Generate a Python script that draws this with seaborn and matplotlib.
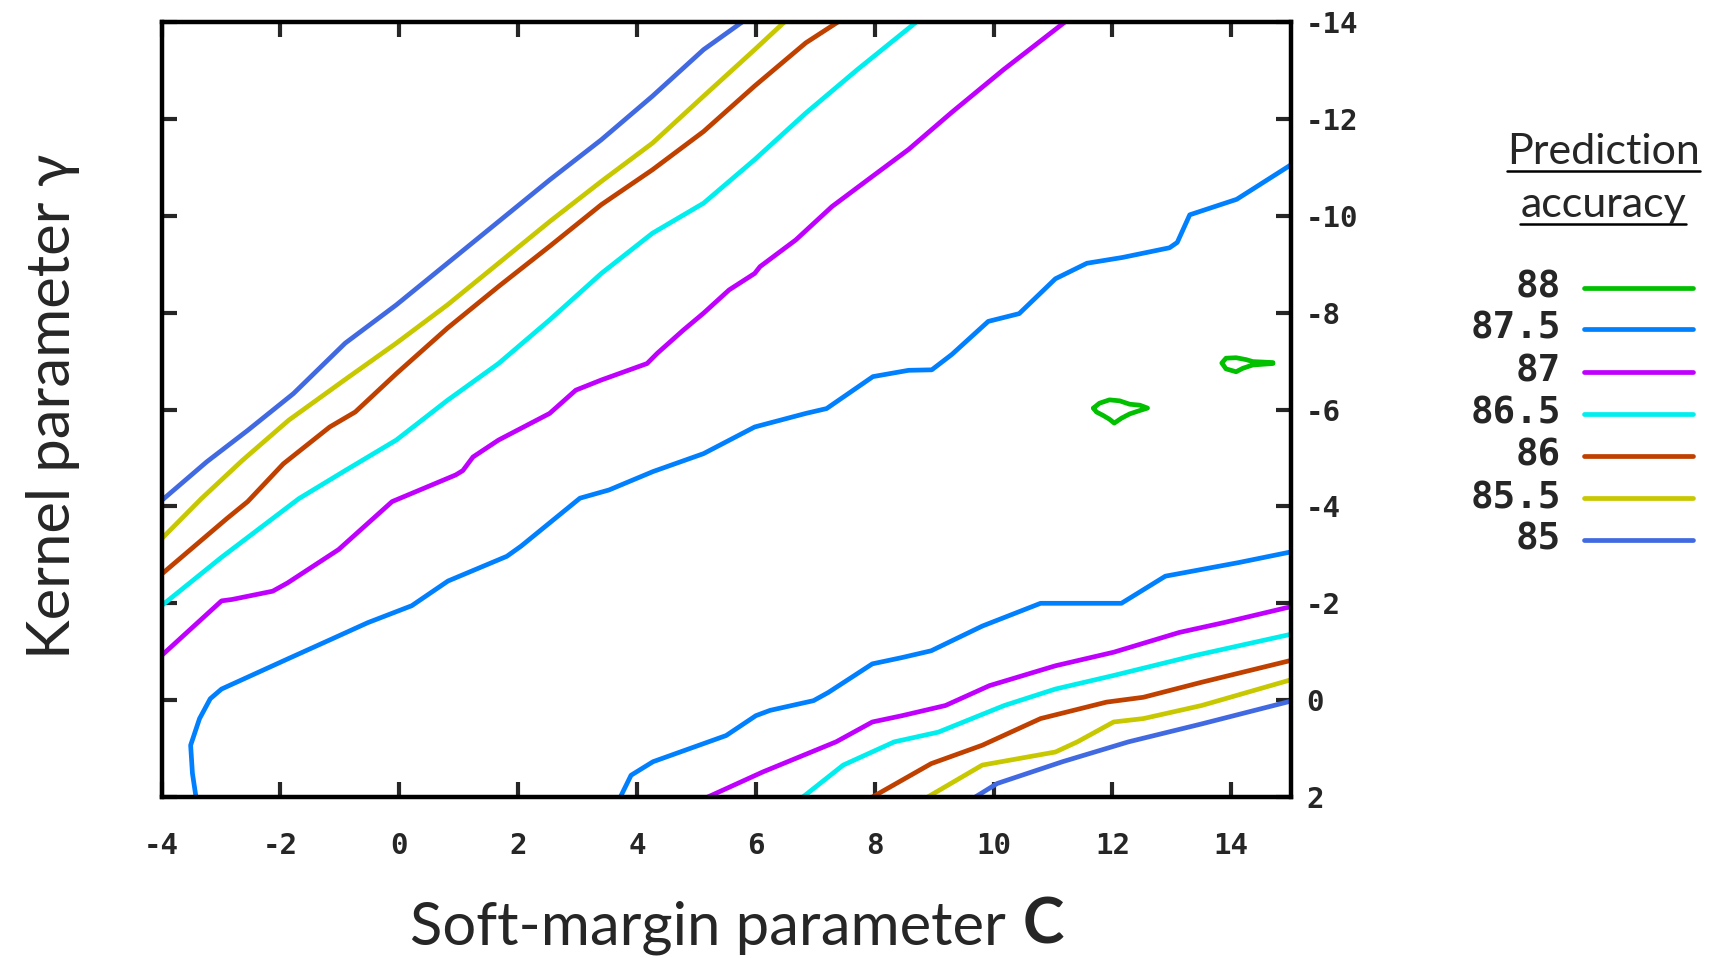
import matplotlib.pyplot as plt
from matplotlib.lines import Line2D
import seaborn as sns
import pandas as pd

# contour levels (prediction accuracy) and gnuplot-like colours
levels = ["88", "87.5", "87", "86.5", "86", "85.5", "85"]
level_colors = ["#00C000", "#0080FF", "#C000FF", "#00EEEE", "#C04000", "#C8C800", "#4169E1"]

x_ticks = [-4, -2, 0, 2, 4, 6, 8, 10, 12, 14]
y_ticks = [-14, -12, -10, -8, -6, -4, -2, 0, 2]

# contour lines: x = log2 C, y = log2 gamma
c85_top_x = [-4.0, -3.24, -2.55, -1.78, -0.91, -0.05, 0.81, 1.67, 2.53, 3.40, 4.26, 5.12, 5.77]
c85_top_y = [-4.12, -4.92, -5.57, -6.33, -7.37, -8.16, -9.02, -9.88, -10.74, -11.57, -12.47, -13.43, -14.0]
c85_bot_x = [9.69, 10.06, 11.16, 12.27, 13.50, 15.0]
c85_bot_y = [2.0, 1.72, 1.27, 0.86, 0.49, 0.02]

c855_top_x = [-4.0, -3.33, -2.64, -1.86, -0.91, -0.05, 0.81, 1.67, 2.53, 3.40, 4.26, 5.12, 5.98, 6.48]
c855_top_y = [-3.33, -4.16, -4.95, -5.78, -6.62, -7.37, -8.16, -9.02, -9.88, -10.71, -11.50, -12.47, -13.43, -14.0]
c855_bot_x = [8.89, 9.81, 11.04, 11.41, 12.02, 12.52, 13.50, 15.0]
c855_bot_y = [2.0, 1.34, 1.07, 0.86, 0.45, 0.38, 0.11, -0.42]

c86_top_x = [-4.0, -2.9, -2.55, -1.95, -1.17, -0.74, -0.05, 0.81, 1.67, 2.53, 3.40, 4.26, 5.12, 5.98, 6.84, 7.38]
c86_top_y = [-2.6, -3.75, -4.1, -4.88, -5.64, -5.95, -6.74, -7.68, -8.54, -9.37, -10.23, -10.95, -11.74, -12.68, -13.57, -14.0]
c86_bot_x = [7.96, 8.95, 9.81, 10.79, 11.90, 12.52, 13.50, 15.0]
c86_bot_y = [2.0, 1.31, 0.93, 0.38, 0.04, -0.06, -0.37, -0.82]

c865_top_x = [-4.0, -2.99, -1.69, -0.91, -0.05, 0.81, 1.67, 2.53, 3.40, 4.26, 5.12, 5.98, 6.84, 7.71, 8.70]
c865_top_y = [-1.95, -2.95, -4.16, -4.74, -5.37, -6.19, -6.95, -7.85, -8.81, -9.64, -10.26, -11.16, -12.12, -13.02, -14.0]
c865_bot_x = [6.79, 7.47, 8.33, 9.07, 10.18, 11.04, 12.02, 13.38, 15.0]
c865_bot_y = [2.0, 1.34, 0.86, 0.66, 0.11, -0.23, -0.51, -0.92, -1.36]

c87_top_x = [-4.0, -2.99, -2.81, -2.13, -1.88, -1.02, -0.12, 0.95, 1.07, 1.24, 1.67, 2.53, 2.97, 3.40, 4.17, 4.34,
             4.78, 5.12, 5.55, 5.98, 6.07, 6.67, 7.28, 7.88, 8.57, 9.30, 10.17, 11.2]
c87_top_y = [-0.92, -2.05, -2.08, -2.25, -2.42, -3.11, -4.1, -4.65, -4.74, -5.02, -5.37, -5.92, -6.40, -6.61, -6.95, -7.16,
             -7.64, -7.99, -8.47, -8.81, -8.95, -9.50, -10.19, -10.74, -11.37, -12.14, -13.02, -14.0]
c87_bot_x = [5.19, 6.12, 7.35, 7.96, 8.46, 9.19, 9.93, 11.04, 12.02, 13.13, 13.87, 15.0]
c87_bot_y = [2.0, 1.48, 0.86, 0.45, 0.32, 0.11, -0.30, -0.71, -0.99, -1.40, -1.60, -1.93]

c875_top_x = [-3.42, -3.48, -3.51, -3.36, -3.18, -2.99, -1.88, -1.14, -0.53, 0.21, 0.82, 1.81, 2.05, 3.04, 3.53, 4.27,
              5.12, 5.98, 6.84, 7.19, 7.97, 8.57, 8.96, 9.30, 9.91, 10.43, 11.04, 11.57, 12.17, 12.96, 13.09, 13.30,
              14.09, 15.0]
c875_top_y = [2.0, 1.51, 0.93, 0.38, -0.03, -0.23, -0.85, -1.26, -1.60, -1.95, -2.46, -2.97, -3.18, -4.17, -4.34, -4.72,
              -5.09, -5.64, -5.92, -6.02, -6.68, -6.81, -6.82, -7.14, -7.82, -7.98, -8.70, -9.02, -9.14, -9.34, -9.45,
              -10.02, -10.34, -11.05]
c875_bot_x = [3.72, 3.90, 4.27, 5.50, 6.0, 6.24, 6.97, 7.22, 7.96, 8.46, 8.95, 9.81, 10.79, 12.15, 12.89, 14.12, 15.0]
c875_bot_y = [2.0, 1.55, 1.27, 0.73, 0.32, 0.21, 0.01, -0.16, -0.75, -0.88, -1.02, -1.53, -2.0, -2.0, -2.56, -2.84, -3.06]

c88_a_x = [11.68, 11.78, 11.95, 12.12, 12.29, 12.46, 12.59, 12.46, 12.29, 12.15, 12.03, 11.95, 11.84, 11.73, 11.68]
c88_a_y = [-6.03, -6.13, -6.20, -6.18, -6.11, -6.09, -6.03, -5.98, -5.91, -5.82, -5.72, -5.80, -5.88, -5.95, -6.03]
c88_b_x = [14.70, 14.36, 14.25, 14.08, 13.91, 13.84, 13.91, 14.08, 14.19, 14.36, 14.70]
c88_b_y = [-6.97, -6.99, -7.03, -7.07, -7.06, -6.96, -6.84, -6.78, -6.85, -6.92, -6.95]

segments = [
    ("85", c85_top_x, c85_top_y), ("85", c85_bot_x, c85_bot_y),
    ("85.5", c855_top_x, c855_top_y), ("85.5", c855_bot_x, c855_bot_y),
    ("86", c86_top_x, c86_top_y), ("86", c86_bot_x, c86_bot_y),
    ("86.5", c865_top_x, c865_top_y), ("86.5", c865_bot_x, c865_bot_y),
    ("87", c87_top_x, c87_top_y), ("87", c87_bot_x, c87_bot_y),
    ("87.5", c875_top_x, c875_top_y), ("87.5", c875_bot_x, c875_bot_y),
    ("88", c88_a_x, c88_a_y), ("88", c88_b_x, c88_b_y),
]

sns.set_style("white")
plt.rcParams["axes.unicode_minus"] = False
mono = {"family": ["DejaVu Sans Mono"], "weight": "bold"}
humanist = ["Lato", "DejaVu Sans"]

fig = plt.figure(figsize=(17.11, 9.58), dpi=100)
ax = fig.add_axes([0.0944, 0.168, 0.660, 0.809])

color_of = dict(zip(levels, level_colors))
for lev, xs, ys in segments:
    df = pd.DataFrame({"C": xs, "gamma": ys})
    sns.lineplot(data=df, x="C", y="gamma", sort=False, estimator=None,
                 color=color_of[lev], lw=3.4, ax=ax)

ax.set_xlim(-4, 15)
ax.set_ylim(2, -14)
ax.set_xticks(x_ticks)
ax.set_yticks(y_ticks)
ax.set_xlabel("")
ax.set_ylabel("")
for sp in ax.spines.values():
    sp.set_linewidth(3.2)
    sp.set_color("black")
ax.tick_params(axis="x", direction="in", top=True, bottom=True, length=11, width=3, pad=25)
ax.tick_params(axis="y", direction="in", left=True, right=True, labelleft=False, labelright=True,
               length=11, width=3, pad=11)
for lab in ax.get_xticklabels() + ax.get_yticklabels():
    lab.set_fontfamily(mono["family"])
    lab.set_fontweight("bold")
    lab.set_fontsize(21)

# axis titles
fig.text(0.031, 0.576, "Kernel parameter γ", rotation=90, ha="center", va="center",
         fontsize=43, family=humanist)
xl = fig.text(0.414, 0.0146, "Soft-margin parameter", ha="center", va="baseline",
              fontsize=43, family=humanist)
ax.annotate("C", xy=(1, 0), xycoords=xl, xytext=(12, 0), textcoords="offset points",
            ha="left", va="bottom", fontsize=45, fontweight="bold", family=humanist)

# legend title with underline
t1 = fig.text(0.937, 0.829, "Prediction", ha="center", va="baseline", fontsize=31, family=humanist)
t2 = fig.text(0.937, 0.774, "accuracy", ha="center", va="baseline", fontsize=31, family=humanist)
fig.canvas.draw()
W, H = fig.get_size_inches() * fig.dpi
for t in (t1, t2):
    bb = t.get_window_extent()
    x0, y0 = t.get_position()
    yline = y0 - 7 / H
    fig.add_artist(Line2D([bb.x0 / W, bb.x1 / W], [yline, yline], color="black", lw=1.8,
                          transform=fig.transFigure))

# legend entries
entry_y = [288, 329, 372, 414, 456, 498.5, 540]
for lev, col, py in zip(levels, level_colors, entry_y):
    fy = 1 - py / H
    fig.text(1561 / W, fy, lev, ha="right", va="center", fontsize=27, **mono)
    fig.add_artist(Line2D([1584 / W, 1693 / W], [fy, fy], color=col, lw=3.4,
                          transform=fig.transFigure))

fig.savefig("out.png", dpi=100)
